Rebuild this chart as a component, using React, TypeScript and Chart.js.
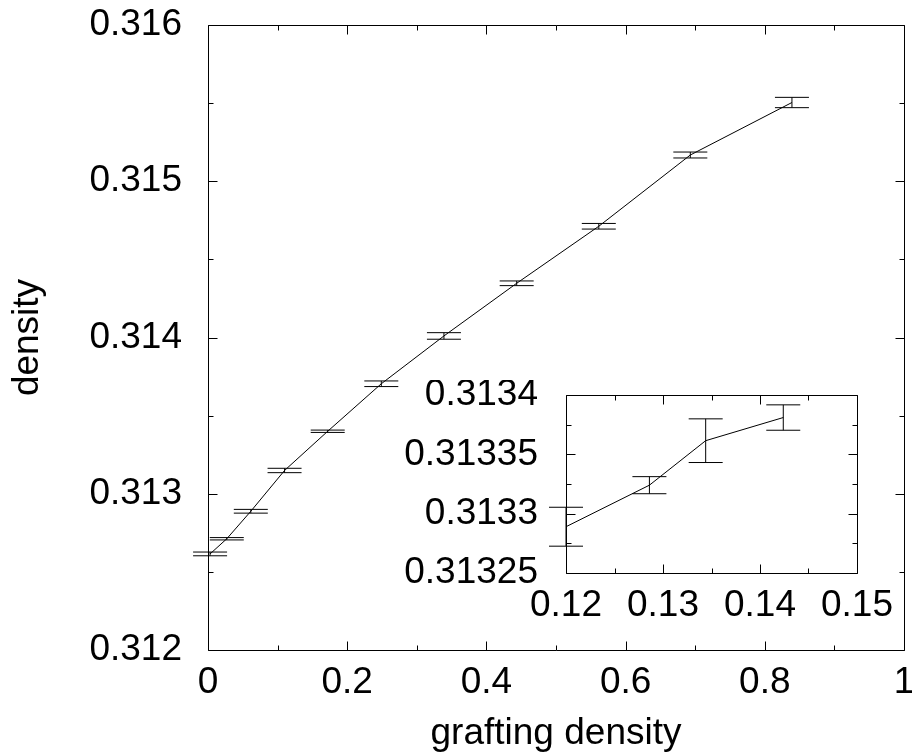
import React, { useEffect, useRef } from 'react';
import { Chart, registerables } from 'chart.js';

Chart.register(...registerables);

// ---- main plot data ----
const mainX = [0.003, 0.027, 0.0615, 0.11, 0.172, 0.249, 0.339, 0.4435, 0.5615, 0.693, 0.839];
const mainY = [0.312615, 0.312712, 0.312888, 0.313149, 0.3134, 0.313704, 0.31401, 0.314347, 0.314712, 0.315168, 0.315504];
const mainErr = [0.000012, 0.0000075, 0.000012, 0.000014, 0.0000075, 0.000018, 0.000021, 0.000015, 0.000018, 0.000019, 0.000033];

const mainXTicks = [0, 0.2, 0.4, 0.6, 0.8, 1];
const mainXTickLabels = ['0', '0.2', '0.4', '0.6', '0.8', '1'];
const mainXMinor = [0.1, 0.3, 0.5, 0.7, 0.9];
const mainYTicks = [0.312, 0.313, 0.314, 0.315, 0.316];
const mainYTickLabels = ['0.312', '0.313', '0.314', '0.315', '0.316'];
const mainYMinor = [0.3125, 0.3135, 0.3145, 0.3155];

// ---- inset data ----
const insetX = [0.12, 0.1286, 0.1344, 0.1424];
const insetY = [0.313289, 0.313324, 0.3133615, 0.313381];
const insetErr = [0.0000164, 0.0000072, 0.0000184, 0.0000107];

const insetXTicks = [0.12, 0.13, 0.14, 0.15];
const insetXTickLabels = ['0.12', '0.13', '0.14', '0.15'];
const insetXMinor = [0.125, 0.135, 0.145];
const insetYTicks = [0.31325, 0.3133, 0.31335, 0.3134];
const insetYTickLabels = ['0.31325', '0.3133', '0.31335', '0.3134'];
const insetYMinor = [0.313275, 0.313325, 0.313375];

const FONT = '"Liberation Sans", Arial, Helvetica, sans-serif';
const FS = 37;

function framePlugin(majX: number[], minX: number[], majY: number[], minY: number[], majLen: number, minLen: number) {
  return {
    id: 'frameTicks',
    afterDatasetsDraw(chart: any) {
      const { ctx, chartArea } = chart;
      const { left, right, top, bottom } = chartArea;
      const sx = chart.scales.x;
      const sy = chart.scales.y;
      const r = (v: number) => Math.round(v) + 0.5;
      ctx.save();
      ctx.strokeStyle = '#000';
      ctx.lineWidth = 1;
      ctx.beginPath();
      const L = r(left), R = r(right), T = r(top), B = r(bottom);
      ctx.moveTo(L, T); ctx.lineTo(R, T); ctx.lineTo(R, B); ctx.lineTo(L, B); ctx.closePath();
      const xt = (vals: number[], len: number) => {
        vals.forEach((v) => {
          const p = r(sx.getPixelForValue(v));
          ctx.moveTo(p, B); ctx.lineTo(p, B - len);
          ctx.moveTo(p, T); ctx.lineTo(p, T + len);
        });
      };
      const yt = (vals: number[], len: number) => {
        vals.forEach((v) => {
          const p = r(sy.getPixelForValue(v));
          ctx.moveTo(L, p); ctx.lineTo(L + len, p);
          ctx.moveTo(R, p); ctx.lineTo(R - len, p);
        });
      };
      xt(majX, majLen); xt(minX, minLen); yt(majY, majLen); yt(minY, minLen);
      ctx.stroke();
      ctx.restore();
    },
  };
}

function errorPlugin(xs: number[], ys: number[], errs: number[], cap: number) {
  return {
    id: 'errorBars',
    afterDatasetsDraw(chart: any) {
      const { ctx } = chart;
      const sx = chart.scales.x;
      const sy = chart.scales.y;
      ctx.save();
      ctx.strokeStyle = '#000';
      ctx.lineWidth = 1;
      ctx.beginPath();
      xs.forEach((xv, i) => {
        const px = sx.getPixelForValue(xv);
        const y1 = sy.getPixelForValue(ys[i] - errs[i]);
        const y2 = sy.getPixelForValue(ys[i] + errs[i]);
        ctx.moveTo(px, y1); ctx.lineTo(px, y2);
        ctx.moveTo(px - cap, y1); ctx.lineTo(px + cap, y1);
        ctx.moveTo(px - cap, y2); ctx.lineTo(px + cap, y2);
      });
      ctx.stroke();
      ctx.restore();
    },
  };
}

function makeConfig(opts: {
  xs: number[]; ys: number[]; errs: number[];
  xMin: number; xMax: number; yMin: number; yMax: number;
  xTicks: number[]; xLabels: string[]; xMinor: number[];
  yTicks: number[]; yLabels: string[]; yMinor: number[];
  yAxisWidth: number; xAxisHeight: number;
  padding: any; yPad: number; xPad: number;
  xTitle?: string; yTitle?: string;
  majLen: number; minLen: number;
}) {
  const font = { size: FS, family: FONT };
  return {
    type: 'scatter' as const,
    data: {
      datasets: [
        {
          data: opts.xs.map((x, i) => ({ x, y: opts.ys[i] })),
          showLine: true,
          borderColor: '#000',
          borderWidth: 1,
          pointRadius: 0,
          tension: 0,
          fill: false,
        },
      ],
    },
    options: {
      responsive: false,
      animation: false as const,
      devicePixelRatio: 1,
      layout: { padding: opts.padding },
      plugins: { legend: { display: false }, tooltip: { enabled: false } },
      scales: {
        x: {
          type: 'linear' as const,
          position: 'bottom' as const,
          min: opts.xMin,
          max: opts.xMax,
          afterBuildTicks: (s: any) => { s.ticks = opts.xTicks.map((v) => ({ value: v })); },
          afterFit: (s: any) => { s.height = opts.xAxisHeight; s.paddingLeft = 0; s.paddingRight = 0; },
          ticks: {
            callback: (_v: any, i: number) => opts.xLabels[i],
            font, color: '#000', padding: opts.xPad, maxRotation: 0, autoSkip: false,
          },
          grid: { display: false, drawTicks: false, tickLength: 0 },
          border: { display: false },
          title: {
            display: !!opts.xTitle, text: opts.xTitle || '', font, color: '#000',
            padding: { top: 0, bottom: 0 },
          },
        },
        y: {
          type: 'linear' as const,
          position: 'left' as const,
          min: opts.yMin,
          max: opts.yMax,
          afterBuildTicks: (s: any) => { s.ticks = opts.yTicks.map((v) => ({ value: v })); },
          afterFit: (s: any) => { s.width = opts.yAxisWidth; s.paddingTop = 0; s.paddingBottom = 0; },
          ticks: {
            callback: (_v: any, i: number) => opts.yLabels[i],
            font, color: '#000', padding: opts.yPad, autoSkip: false,
          },
          grid: { display: false, drawTicks: false, tickLength: 0 },
          border: { display: false },
          title: {
            display: !!opts.yTitle, text: opts.yTitle || '', font, color: '#000',
            padding: { top: 6, bottom: 0 },
          },
        },
      },
    },
    plugins: [
      framePlugin(opts.xTicks, opts.xMinor, opts.yTicks, opts.yMinor, opts.majLen, opts.minLen),
      errorPlugin(opts.xs, opts.ys, opts.errs, 17),
    ],
  };
}

export default function App() {
  const mainRef = useRef<HTMLCanvasElement>(null);
  const insetRef = useRef<HTMLCanvasElement>(null);

  useEffect(() => {
    const main = new Chart(mainRef.current as HTMLCanvasElement, makeConfig({
      xs: mainX, ys: mainY, errs: mainErr,
      xMin: 0, xMax: 1, yMin: 0.312, yMax: 0.316,
      xTicks: mainXTicks, xLabels: mainXTickLabels, xMinor: mainXMinor,
      yTicks: mainYTicks, yLabels: mainYTickLabels, yMinor: mainYMinor,
      yAxisWidth: 208, xAxisHeight: 106,
      padding: { left: 0, right: 8, top: 25, bottom: 0 },
      yPad: 26, xPad: 11,
      xTitle: 'grafting density', yTitle: 'density',
      majLen: 9, minLen: 5,
    }) as any);
    const inset = new Chart(insetRef.current as HTMLCanvasElement, makeConfig({
      xs: insetX, ys: insetY, errs: insetErr,
      xMin: 0.12, xMax: 0.15, yMin: 0.31325, yMax: 0.3134,
      xTicks: insetXTicks, xLabels: insetXTickLabels, xMinor: insetXMinor,
      yTicks: insetYTicks, yLabels: insetYTickLabels, yMinor: insetYMinor,
      yAxisWidth: 171, xAxisHeight: 67,
      padding: { left: 0, right: 55, top: 15, bottom: 0 },
      yPad: 28, xPad: 11,
      majLen: 9, minLen: 5,
    }) as any);
    return () => { main.destroy(); inset.destroy(); };
  }, []);

  return (
    <div style={{ position: 'absolute', left: 0, top: 0, width: 912, height: 756, background: '#fff' }}>
      <canvas ref={mainRef} width={912} height={756}
        style={{ position: 'absolute', left: 0, top: 0, width: 912, height: 756 }} />
      <canvas ref={insetRef} width={517} height={260}
        style={{ position: 'absolute', left: 395, top: 380, width: 517, height: 260 }} />
    </div>
  );
}
